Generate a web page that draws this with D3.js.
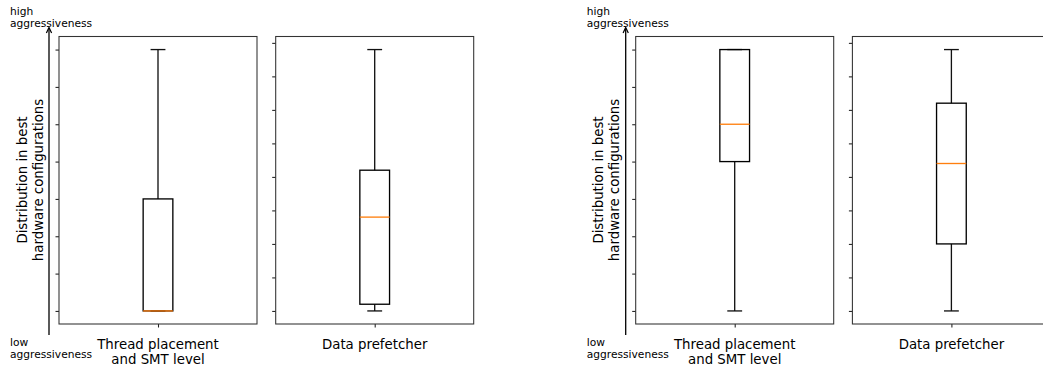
<!DOCTYPE html>
<html>
<head>
<meta charset="utf-8">
<script src="https://cdn.jsdelivr.net/npm/d3@7"></script>
<style>
  html, body { margin: 0; padding: 0; background: #fff; }
  svg { display: block; font-family: "DejaVu Sans", sans-serif; }
</style>
</head>
<body>
<svg id="chart" width="1043" height="369"></svg>
<script>
// Knob categories shown in each group of panels
const categories = ["Thread placement\nand SMT level", "Data prefetcher"];

// Unlabelled level ticks for each knob (8 thread levels, 9 prefetcher levels)
const threadTicks = [0, 1, 2, 3, 4, 5, 6, 7];
const prefetchTicks = [0, 1, 2, 3, 4, 5, 6, 7, 8];

// Box statistics, first group (thread placement, data prefetcher)
const leftWhiskerLow  = [0, 0];
const leftQ1          = [0, 0.2];
const leftMedian      = [0, 2.8];
const leftQ3          = [3, 4.2];
const leftWhiskerHigh = [7, 7.8];

// Box statistics, second group
const rightWhiskerLow  = [0, 0];
const rightQ1          = [4, 2.0];
const rightMedian      = [5, 4.4];
const rightQ3          = [7, 6.2];
const rightWhiskerHigh = [7, 7.8];

const svg = d3.select("#chart");

const groups = [
  { x0: 59, stats: [leftWhiskerLow, leftQ1, leftMedian, leftQ3, leftWhiskerHigh] },
  { x0: 635.7, stats: [rightWhiskerLow, rightQ1, rightMedian, rightQ3, rightWhiskerHigh] }
];
const panelW = 198, panelGap = 18.7;
const plotTop = 36.5, plotBottom = 324;
const tickSets = [threadTicks, prefetchTicks];

groups.forEach(grp => {
  const g = svg.append("g");
  const [wlo, q1, med, q3, whi] = grp.stats;

  // Arrow on the left of the group, indicating aggressiveness direction
  const ax = grp.x0 - 10;
  g.append("line").attr("x1", ax).attr("x2", ax).attr("y1", 335).attr("y2", 28.5)
    .attr("stroke", "#000").attr("stroke-width", 1.3);
  g.append("path").attr("d", `M${ax - 2.6},${33} L${ax},${27.5} L${ax + 2.6},${33}`)
    .attr("fill", "none").attr("stroke", "#000").attr("stroke-width", 1.2);

  g.append("text").attr("x", grp.x0 - 49).attr("y", 15).attr("font-size", 10.67).text("high");
  g.append("text").attr("x", grp.x0 - 49).attr("y", 26.8).attr("font-size", 10.67).text("aggressiveness");
  g.append("text").attr("x", grp.x0 - 49).attr("y", 345.5).attr("font-size", 10.67).text("low");
  g.append("text").attr("x", grp.x0 - 49).attr("y", 357.5).attr("font-size", 10.67).text("aggressiveness");

  // Y axis title, two rotated lines
  const yl = g.append("text")
    .attr("transform", `translate(${grp.x0 - 32.3},${180}) rotate(-90)`)
    .attr("text-anchor", "middle").attr("font-size", 13.33);
  yl.append("tspan").attr("x", 0).attr("y", 0).text("Distribution in best");
  yl.append("tspan").attr("x", 0).attr("y", 16).text("hardware configurations");

  categories.forEach((cat, i) => {
    const px = grp.x0 + i * (panelW + panelGap);
    const ticks = tickSets[i];
    const dmin = Math.min(wlo[i], 0), dmax = whi[i];
    const pad = (dmax - dmin) * 0.05;
    const y = d3.scaleLinear().domain([dmin - pad, dmax + pad]).range([plotBottom, plotTop]);
    const x = d3.scaleLinear().domain([0.5, 1.5]).range([px, px + panelW]);
    const p = g.append("g");

    // y ticks (no labels)
    const yAxis = d3.axisLeft(y).tickValues(ticks).tickSize(3.5).tickFormat("");
    p.append("g").attr("transform", `translate(${px},0)`).call(yAxis)
      .call(s => s.select(".domain").remove())
      .call(s => s.selectAll("line").attr("stroke", "#222").attr("stroke-width", 1.07));

    // single x tick with category label
    const xAxis = d3.axisBottom(x).tickValues([1]).tickSize(3.5).tickFormat("");
    p.append("g").attr("transform", `translate(0,${plotBottom})`).call(xAxis)
      .call(s => s.select(".domain").remove())
      .call(s => s.selectAll("line").attr("stroke", "#222").attr("stroke-width", 1.07));

    const lines = cat.split("\n");
    const lab = p.append("text").attr("text-anchor", "middle").attr("font-size", 13.33);
    lines.forEach((ln, k) => {
      lab.append("tspan").attr("x", x(1)).attr("y", 348.6 + k * 15.6).text(ln);
    });

    // Boxplot
    const bw = 0.15, cw = 0.075;
    const stroke = "#111", sw = 1.33;
    p.append("line").attr("x1", x(1)).attr("x2", x(1)).attr("y1", y(q3[i])).attr("y2", y(whi[i]))
      .attr("stroke", stroke).attr("stroke-width", sw);
    p.append("line").attr("x1", x(1)).attr("x2", x(1)).attr("y1", y(q1[i])).attr("y2", y(wlo[i]))
      .attr("stroke", stroke).attr("stroke-width", sw);
    [whi[i], wlo[i]].forEach(v => {
      p.append("line").attr("x1", x(1 - cw / 2)).attr("x2", x(1 + cw / 2))
        .attr("y1", y(v)).attr("y2", y(v)).attr("stroke", stroke).attr("stroke-width", sw);
    });
    p.append("rect").attr("x", x(1 - bw / 2)).attr("width", x(1 + bw / 2) - x(1 - bw / 2))
      .attr("y", y(q3[i])).attr("height", y(q1[i]) - y(q3[i]))
      .attr("fill", "none").attr("stroke", "#000").attr("stroke-width", sw);
    p.append("line").attr("x1", x(1 - bw / 2)).attr("x2", x(1 + bw / 2))
      .attr("y1", y(med[i])).attr("y2", y(med[i]))
      .attr("stroke", "#ff7f0e").attr("stroke-width", sw);

    // panel frame
    p.append("rect").attr("x", px).attr("y", plotTop).attr("width", panelW).attr("height", plotBottom - plotTop)
      .attr("fill", "none").attr("stroke", "#333").attr("stroke-width", 1.07);
  });
});
</script>
</body>
</html>
